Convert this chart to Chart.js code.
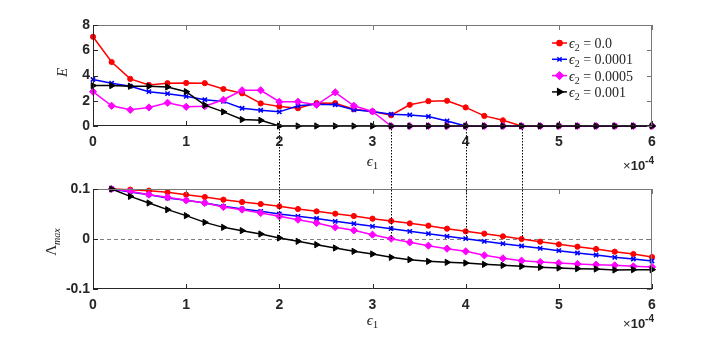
<!DOCTYPE html>
<html>
<head>
<meta charset="utf-8">
<script src="https://cdn.jsdelivr.net/npm/chart.js@4/dist/chart.umd.min.js"></script>
<style>
  html, body { margin: 0; padding: 0; background: #fff; }
  #wrap { position: relative; width: 720px; height: 344px; background: #fff; }
  canvas { position: absolute; left: 0; }
  #topChart { top: 0; }
  #botChart { top: 172px; }
</style>
</head>
<body>
<div id="wrap">
  <canvas id="topChart" width="720" height="172"></canvas>
  <canvas id="botChart" width="720" height="172"></canvas>
</div>
<script>
// ----- Data (eps1 in units of 1e-4) -----
const eps1 = [0, 0.2, 0.4, 0.6, 0.8, 1, 1.2, 1.4, 1.6, 1.8, 2, 2.2, 2.4, 2.6, 2.8, 3,
  3.2, 3.4, 3.6, 3.8, 4, 4.2, 4.4, 4.6, 4.8, 5, 5.2, 5.4, 5.6, 5.8, 6];
const eps2Labels = ["0.0", "0.0001", "0.0005", "0.001"];

// top panel: E
const E_a = [7.07, 5.07, 3.73, 3.25, 3.39, 3.41, 3.39, 2.93, 2.59, 1.79, 1.55, 1.41, 1.82, 1.81, 1.33, 1.15,
  0.85, 1.68, 1.97, 2.0, 1.47, 0.8, 0.45, 0, 0, 0, 0, 0, 0, 0, 0];
const E_b = [3.68, 3.39, 3.15, 2.72, 2.56, 2.35, 2.08, 1.95, 1.41, 1.25, 1.12, 1.6, 1.72, 1.68, 1.28, 1.15,
  0.93, 0.88, 0.75, 0.4, 0, 0, 0, 0, 0, 0, 0, 0, 0, 0, 0];
const E_c = [2.72, 1.6, 1.28, 1.47, 1.84, 1.52, 1.57, 2.08, 2.83, 2.83, 1.92, 1.92, 1.68, 2.67, 1.6, 1.15,
  0, 0, 0, 0, 0, 0, 0, 0, 0, 0, 0, 0, 0, 0, 0];
const E_d = [3.2, 3.2, 3.15, 3.15, 3.09, 2.72, 1.65, 1.12, 0.51, 0.45, 0, 0, 0, 0, 0, 0,
  0, 0, 0, 0, 0, 0, 0, 0, 0, 0, 0, 0, 0, 0, 0];

// bottom panel: Lambda_max
const L_a = [null, 0.1, 0.0987, 0.0967, 0.0933, 0.0887, 0.084, 0.0787, 0.074, 0.07, 0.0653, 0.06, 0.0553,
  0.0507, 0.046, 0.0407, 0.036, 0.0313, 0.0267, 0.0207, 0.0153, 0.0107, 0.0053, 0, -0.0053, -0.0107,
  -0.0153, -0.02, -0.0253, -0.03, -0.036];
const L_b = [null, 0.1, 0.094, 0.0887, 0.082, 0.0773, 0.072, 0.0653, 0.06, 0.0553, 0.05, 0.0453, 0.041,
  0.0353, 0.0307, 0.0253, 0.0207, 0.0153, 0.0107, 0.0053, 0.0007, -0.0047, -0.0093, -0.014, -0.0187,
  -0.0233, -0.028, -0.032, -0.0367, -0.04, -0.044];
const L_c = [null, 0.1, 0.0953, 0.0887, 0.0833, 0.0773, 0.072, 0.064, 0.0587, 0.052, 0.0453, 0.0387, 0.032,
  0.0233, 0.0173, 0.0087, 0.0007, -0.0067, -0.0133, -0.0193, -0.0247, -0.0327, -0.0387, -0.0433, -0.046,
  -0.048, -0.05, -0.0513, -0.0527, -0.0547, -0.056];
const L_d = [null, 0.1, 0.0853, 0.072, 0.0587, 0.0467, 0.0333, 0.0233, 0.0167, 0.01, 0.002, -0.0047,
  -0.0113, -0.018, -0.0247, -0.03, -0.0367, -0.0413, -0.0447, -0.0467, -0.048, -0.0507, -0.0527, -0.0547,
  -0.0567, -0.058, -0.0593, -0.06, -0.062, -0.0613, -0.0613];

// eps1 where each curve hits zero (dotted connectors)
const crossings = [2, 3.2, 4, 4.6];

// ----- Styles -----
const STYLES = [
  { color: "#FF0000", point: "circle", r: 2.6, bw: 1, rot: 0 },
  { color: "#0000FF", point: "crossRot", r: 3, bw: 1.6, rot: 0 },
  { color: "#FF00FF", point: "rectRot", r: 3.6, bw: 1, rot: 0 },
  { color: "#000000", point: "triangle", r: 3.6, bw: 1, rot: 90 }
];
const AX = "#262626";
const TICK_FONT = { family: "'Liberation Sans', Arial, sans-serif", size: 14, weight: "bold" };
const SERIF = "'Liberation Serif', 'DejaVu Serif', serif";

const makeSets = (series) =>
  series.map((ys, i) => ({
    label: eps2Labels[i],
    data: eps1.map((x, j) => ({ x, y: ys[j] })),
    borderColor: STYLES[i].color,
    backgroundColor: STYLES[i].color,
    borderWidth: 1.5,
    pointStyle: STYLES[i].point,
    pointRadius: STYLES[i].r,
    pointBorderWidth: STYLES[i].bw,
    pointRotation: STYLES[i].rot,
    tension: 0,
    clip: false,
    order: series.length - 1 - i
  }));

// ----- Rich text helper (base + sub/superscript) -----
function drawRich(ctx, parts, x, y, align) {
  let w = 0;
  parts.forEach((p) => { ctx.font = p[1]; w += ctx.measureText(p[0]).width; });
  let cx = align === "center" ? x - w / 2 : align === "right" ? x - w : x;
  ctx.textAlign = "left";
  ctx.textBaseline = "alphabetic";
  parts.forEach((p) => {
    ctx.font = p[1];
    ctx.fillText(p[0], cx, y + (p[2] || 0));
    cx += ctx.measureText(p[0]).width;
  });
}

// ----- Frame / decoration plugin -----
const framePlugin = {
  id: "frame",
  beforeDatasetsDraw(chart, args, opts) {
    const { ctx, chartArea: { left, right }, scales: { y } } = chart;
    if (!opts.zeroLine) return;
    const py = Math.round(y.getPixelForValue(0)) + 0.5;
    ctx.save();
    ctx.lineWidth = 1;
    ctx.strokeStyle = "#808080";
    ctx.setLineDash([4, 3]);
    ctx.beginPath(); ctx.moveTo(left, py); ctx.lineTo(right, py); ctx.stroke();
    ctx.restore();
  },
  afterDraw(chart, args, opts) {
    const { ctx, chartArea: { left, right, top, bottom }, scales: { x, y } } = chart;
    const seg = (x0, y0, x1, y1) => { ctx.beginPath(); ctx.moveTo(x0, y0); ctx.lineTo(x1, y1); ctx.stroke(); };
    ctx.save();
    ctx.setLineDash([]);
    ctx.lineWidth = 1;
    // box: top/right lighter, inward ticks on all sides
    ctx.strokeStyle = "#777777";
    seg(left, top + 0.5, right, top + 0.5);
    seg(right - 0.5, top, right - 0.5, bottom);
    x.ticks.forEach((t) => {
      const px = Math.round(x.getPixelForValue(t.value)) + 0.5;
      seg(px, top, px, top + 5);
    });
    y.ticks.forEach((t) => {
      const py = Math.round(y.getPixelForValue(t.value)) + 0.5;
      seg(right, py, right - 5, py);
    });
    ctx.strokeStyle = AX;
    seg(left + 0.5, top, left + 0.5, bottom);
    seg(left, bottom - 0.5, right, bottom - 0.5);
    x.ticks.forEach((t) => {
      const px = Math.round(x.getPixelForValue(t.value)) + 0.5;
      seg(px, bottom, px, bottom - 5);
    });
    y.ticks.forEach((t) => {
      const py = Math.round(y.getPixelForValue(t.value)) + 0.5;
      seg(left, py, left + 5, py);
    });

    ctx.fillStyle = AX;
    // x title
    drawRich(ctx, [["ϵ", "italic 15px " + SERIF], ["1", "11px " + SERIF, 3]],
      (left + right) / 2, bottom + opts.xTitleDy, "center");
    // exponent
    drawRich(ctx, [["×", "13px 'Liberation Sans', sans-serif"],
      ["10", "bold 13px 'Liberation Sans', sans-serif"],
      ["-4", "bold 10px 'Liberation Sans', sans-serif", -6]],
      right + 2, bottom + opts.expDy, "right");
    // y title (rotated)
    ctx.save();
    ctx.translate(opts.yTitleX, (top + bottom) / 2 + opts.yTitleDy);
    ctx.rotate(-Math.PI / 2);
    drawRich(ctx, opts.yTitle, 0, 5, "center");
    ctx.restore();
    // dotted connectors
    ctx.strokeStyle = "#000";
    ctx.setLineDash([1.5, 1.5]);
    const y0 = y.getPixelForValue(0);
    crossings.forEach((c) => {
      const px = Math.round(x.getPixelForValue(c)) + 0.5;
      if (opts.connect === "down") seg(px, y0, px, chart.height);
      else seg(px, 0, px, y0);
    });
    ctx.setLineDash([]);
    // legend
    if (opts.legend) {
      const lx = right - 100, ly = top + 18;
      chart.data.datasets.forEach((ds, i) => {
        const cy = ly + i * 16.3;
        ctx.strokeStyle = ds.borderColor;
        ctx.lineWidth = 1.5;
        seg(lx, cy, lx + 15, cy);
        ctx.fillStyle = ds.backgroundColor;
        Chart.helpers.drawPoint(ctx, {
          pointStyle: ds.pointStyle, radius: ds.pointRadius,
          rotation: ds.pointRotation, borderWidth: ds.pointBorderWidth
        }, lx + 7.5, cy);
        ctx.fillStyle = AX;
        drawRich(ctx, [["ϵ", "italic 14px " + SERIF], ["2", "10px " + SERIF, 3],
          [" = " + ds.label, "14px " + SERIF]], lx + 17, cy + 5, "left");
      });
    }
    ctx.restore();
  }
};
Chart.register(framePlugin);

// ----- Scale builder -----
function scales(yMin, yMax, yStep, xH) {
  return {
    x: {
      type: "linear", min: 0, max: 6,
      ticks: { stepSize: 1, padding: 8, font: TICK_FONT, color: AX, autoSkip: false, maxRotation: 0 },
      grid: { display: false, drawTicks: false },
      border: { display: false },
      afterFit: (s) => { s.height = xH; }
    },
    y: {
      min: yMin, max: yMax,
      ticks: { stepSize: yStep, padding: 3, font: TICK_FONT, color: AX, autoSkip: false },
      grid: { display: false, drawTicks: false },
      border: { display: false },
      afterFit: (s) => { s.width = 93; }
    }
  };
}

// ----- Charts -----
new Chart(document.getElementById("topChart"), {
  type: "line",
  data: { datasets: makeSets([E_a, E_b, E_c, E_d]) },
  options: {
    responsive: false, animation: false,
    layout: { padding: { top: 25, right: 68, left: 0, bottom: 0 } },
    plugins: {
      legend: { display: false }, tooltip: { enabled: false },
      frame: {
        legend: true, connect: "down", zeroLine: false,
        xTitleDy: 40, expDy: 44, yTitleX: 62, yTitleDy: -3,
        yTitle: [["E", "italic 15px " + SERIF]]
      }
    },
    scales: scales(0, 8, 2, 46)
  }
});

new Chart(document.getElementById("botChart"), {
  type: "line",
  data: { datasets: makeSets([L_a, L_b, L_c, L_d]) },
  options: {
    responsive: false, animation: false,
    layout: { padding: { top: 17, right: 68, left: 0, bottom: 0 } },
    plugins: {
      legend: { display: false }, tooltip: { enabled: false },
      frame: {
        legend: false, connect: "up", zeroLine: true,
        xTitleDy: 36, expDy: 39, yTitleX: 51, yTitleDy: 3,
        yTitle: [["Λ", "15px " + SERIF], ["max", "italic 10px " + SERIF, 4]]
      }
    },
    scales: scales(-0.1, 0.1, 0.1, 55)
  }
});
</script>
</body>
</html>
